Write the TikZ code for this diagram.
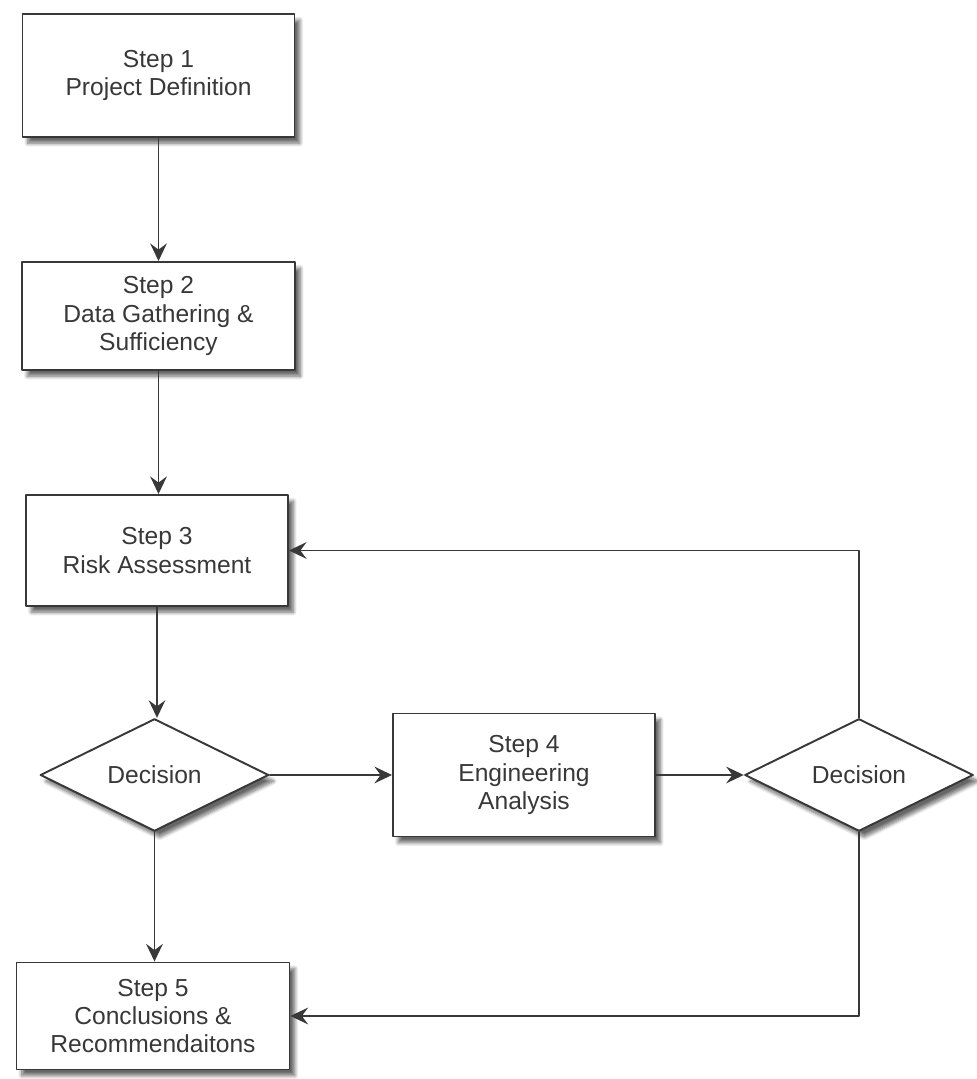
\documentclass[tikz,border=0pt]{standalone}
\usepackage{fontspec}
\setmainfont{Liberation Sans}
\usetikzlibrary{arrows.meta}
\usetikzlibrary{shapes.geometric}
\usetikzlibrary{shadows.blur}
\definecolor{ink}{HTML}{383838}

\begin{document}
\begin{tikzpicture}[line cap=round,line join=round,>={Stealth[length=10pt,width=9.5pt,inset=3.5pt]},x=1.0cm,y=1.0cm,
    every node/.style={font=\fontsize{14}{16}\selectfont,text=ink},
    stepbox/.style={draw=ink,fill=white,line width=1.1pt,align=center,
      inner sep=2pt,blur shadow={shadow xshift=3pt,shadow yshift=-3.5pt,
      shadow blur steps=8,shadow opacity=60}},
    choice/.style={diamond,draw=ink,fill=white,line width=1.1pt,inner sep=0pt,
      minimum width=4.57cm,minimum height=1.8cm,blur shadow={shadow xshift=3pt,
      shadow yshift=-3.5pt,shadow blur steps=8,shadow opacity=60}},
    flow/.style={->,draw=ink,line width=0.9pt}]
  \useasboundingbox (0,0) rectangle (19.54,21.58);
  % steps down the left side
  \node[stepbox,minimum width=5.44cm,minimum height=2.46cm] (s1) at (3.17,20.07) {Step 1\\Project Definition};
  \node[stepbox,minimum width=5.46cm,minimum height=2.16cm] (s2) at (3.17,15.26) {Step 2\\Data Gathering \&\\Sufficiency};
  \node[stepbox,minimum width=5.24cm,minimum height=2.22cm] (s3) at (3.14,10.57) {Step 3\\Risk Assessment};
  \node[choice] (d1) at (3.09,6.08) {Decision};
  \node[stepbox,minimum width=5.46cm,minimum height=2.14cm] (s5) at (3.06,1.26) {Step 5\\Conclusions \&\\Recommendaitons};
  % middle row
  \node[stepbox,minimum width=5.24cm,minimum height=2.46cm] (s4) at (10.48,6.08) {Step 4\\Engineering\\Analysis};
  \node[choice] (d2) at (17.18,6.08) {Decision};
  % 
  \draw[flow] (s1.south) -- (s1.south |- s2.north);
  \draw[flow] (s2.south) -- (s2.south |- s3.north);
  \draw[flow] (s3.south) -- (s3.south |- d1.north);
  \draw[flow] (d1.south) -- (d1.south |- s5.north);
  \draw[flow] (d1) -- (s4);
  \draw[flow] (s4) -- (d2);
  \draw[flow] (d2.north) |- (s3.east);
  \draw[flow] (d2.south) |- (s5.east);
\end{tikzpicture}
\end{document}
